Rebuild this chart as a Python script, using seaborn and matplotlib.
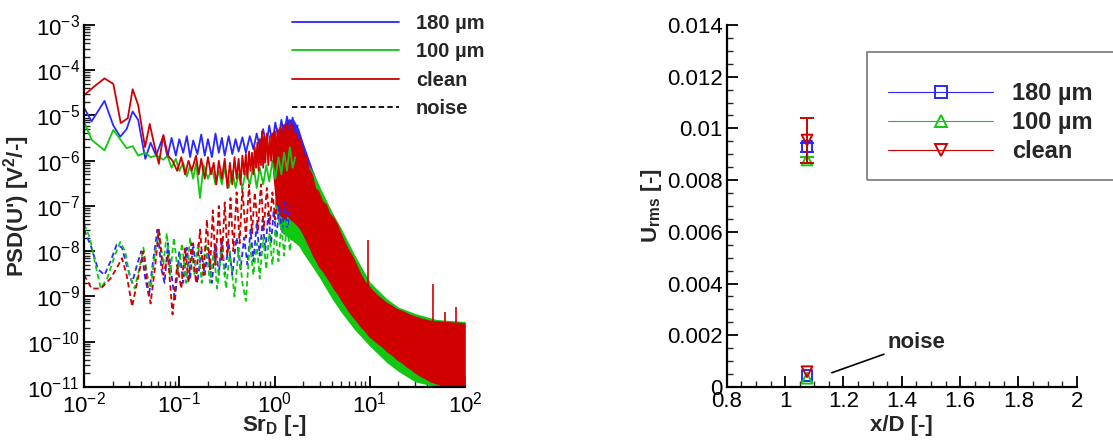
import numpy as np
import matplotlib
matplotlib.use("Agg")
import matplotlib.pyplot as plt
import seaborn as sns
from matplotlib.lines import Line2D
from matplotlib.patches import Rectangle
from matplotlib.ticker import LogLocator, MultipleLocator, FormatStrFormatter, NullFormatter

sns.set_style("ticks")
plt.rcParams['font.family'] = ['Liberation Sans', 'DejaVu Sans']
plt.rcParams['mathtext.default'] = 'regular'

BLUE = '#2828ff'
GREEN = '#10c810'
RED = '#d00000'

# ---- left panel: PSD traces ----
# solid lines (flow signal), low Sr part
f_red = [0.0100, 0.0130, 0.0164, 0.0203, 0.0243, 0.0288, 0.0324, 0.0370, 0.0437, 0.0490, 0.0540, 0.0610,
         0.0680, 0.0760, 0.085, 0.095, 0.105, 0.115, 0.125, 0.135, 0.15, 0.16, 0.17, 0.185, 0.20, 0.215,
         0.23, 0.245, 0.26, 0.28, 0.30, 0.32, 0.34, 0.36, 0.38, 0.40, 0.42, 0.44, 0.46, 0.48, 0.50, 0.52,
         0.54, 0.56, 0.58, 0.60, 0.62, 0.64, 0.66, 0.68, 0.70, 0.72, 0.74, 0.76, 0.78, 0.80, 0.83, 0.86,
         0.89, 0.92, 0.95, 0.98, 1.01, 1.04, 1.08, 1.12, 1.16, 1.20, 1.25, 1.30, 1.35, 1.40, 1.45, 1.50,
         1.56, 1.62, 1.68, 1.75]
p_red = [2.8e-5, 4.5e-5, 6.6e-5, 5.0e-5, 6.8e-6, 8.7e-6, 3.8e-5, 1.7e-5, 2.0e-6, 6.5e-6, 2.5e-6, 8.5e-7,
         3.7e-6, 1.3e-6, 1.0e-6, 6e-7, 1.2e-6, 5e-7, 1.0e-6, 6e-7, 1.3e-6, 5e-7, 1.1e-6, 4e-7, 1.2e-6, 5e-7,
         9e-7, 3e-7, 1.0e-6, 4e-7, 1.1e-6, 2.5e-7, 9e-7, 3e-7, 1.2e-6, 4e-7, 1.1e-6, 3e-7, 1.3e-6, 5e-7,
         1.4e-6, 4e-7, 1.6e-6, 6e-7, 1.5e-6, 5e-7, 2e-6, 7e-7, 2.5e-6, 6e-7, 3e-6, 8e-7, 4.5e-6, 7e-7,
         3.5e-6, 9e-7, 4e-6, 8e-7, 3.5e-6, 1e-6, 4e-6, 9e-7, 4.5e-6, 1.2e-6, 5e-6, 1.5e-6, 5.5e-6, 1.3e-6,
         6e-6, 2e-6, 6.5e-6, 2e-6, 7e-6, 2.5e-6, 6e-6, 2e-6, 4e-6, 2.5e-6]

f_blue = [0.0100, 0.0120, 0.0164, 0.0203, 0.0240, 0.0280, 0.0324, 0.0370, 0.0440, 0.0500, 0.0570, 0.0680,
          0.075, 0.083, 0.092, 0.100, 0.110, 0.120, 0.130, 0.140, 0.155, 0.170, 0.185, 0.200, 0.220, 0.240,
          0.260, 0.280, 0.300, 0.330, 0.360, 0.390, 0.420, 0.460, 0.500, 0.550, 0.600, 0.650, 0.700, 0.760,
          0.820, 0.880, 0.950, 1.02, 1.10, 1.18, 1.26, 1.35, 1.45, 1.55, 1.65, 1.75]
p_blue = [1.5e-5, 7.4e-6, 2.1e-5, 6e-6, 3.4e-6, 5e-6, 1.23e-5, 8e-6, 1.1e-6, 2.5e-6, 1.3e-6, 3.5e-6,
          1.2e-6, 3.2e-6, 1.3e-6, 3.0e-6, 1.5e-6, 3.5e-6, 1.2e-6, 2.8e-6, 1.4e-6, 3.8e-6, 1.3e-6, 3.0e-6,
          1.2e-6, 4.0e-6, 1.5e-6, 3.2e-6, 1.3e-6, 3.5e-6, 1.4e-6, 3.0e-6, 1.6e-6, 3.3e-6, 1.5e-6, 3.5e-6,
          1.8e-6, 4e-6, 2e-6, 5e-6, 2.2e-6, 6e-6, 2.5e-6, 7e-6, 3e-6, 8e-6, 3.5e-6, 9.5e-6, 4e-6, 9e-6,
          4e-6, 6e-6]

f_green = [0.0100, 0.0120, 0.0164, 0.0203, 0.0280, 0.0324, 0.0370, 0.0437, 0.0500, 0.0580, 0.068, 0.075,
           0.083, 0.092, 0.100, 0.110, 0.120, 0.130, 0.140, 0.150, 0.165, 0.18, 0.20, 0.22, 0.24, 0.26,
           0.28, 0.30, 0.33, 0.36, 0.39, 0.42, 0.46, 0.50, 0.55, 0.60, 0.65, 0.70, 0.76, 0.82, 0.88, 0.95,
           1.02, 1.10, 1.18, 1.26, 1.35, 1.45, 1.55, 1.65]
p_green = [7.4e-6, 2.9e-6, 1.7e-6, 4.8e-6, 1.9e-6, 2.1e-6, 1.3e-6, 1.5e-6, 1.2e-6, 1.3e-6, 1.05e-6, 1.3e-6,
           7e-7, 1.1e-6, 6e-7, 9e-7, 4.5e-7, 8e-7, 4e-7, 9e-7, 1.5e-7, 8e-7, 4e-7, 7e-7, 3e-7, 6e-7,
           3e-7, 7e-7, 2.5e-7, 6e-7, 2.5e-7, 5e-7, 2.5e-7, 6e-7, 3e-7, 8e-7, 2.5e-7, 7e-7, 3e-7, 8e-7,
           3.5e-7, 1e-6, 4e-7, 1.2e-6, 5e-7, 1.5e-6, 6e-7, 2e-6, 7e-7, 1.2e-6]

# dashed lines (noise), low Sr part
fn_blue = [0.0100, 0.0120, 0.0140, 0.0164, 0.0190, 0.0220, 0.0250, 0.0280, 0.0320, 0.0360, 0.0400, 0.0440,
           0.0480, 0.0530, 0.0590, 0.0650, 0.0700, 0.0760, 0.0830, 0.0900, 0.100, 0.110, 0.120, 0.130,
           0.140, 0.155, 0.170, 0.185, 0.200, 0.220, 0.240, 0.260, 0.280, 0.300, 0.330, 0.360, 0.400,
           0.440, 0.480, 0.52, 0.56, 0.60, 0.65, 0.70, 0.75, 0.80, 0.86, 0.92, 0.98, 1.05, 1.12, 1.20,
           1.28, 1.36, 1.45]
pn_blue = [3e-8, 1.2e-8, 4e-9, 3e-9, 6e-9, 1.4e-8, 1.2e-8, 5e-9, 2e-9, 5e-9, 1e-8, 2.5e-9,
           1e-9, 6e-9, 3e-8, 4e-9, 2e-9, 1.5e-8, 3e-9, 8e-10, 1e-8, 2e-9, 1.2e-8, 2.5e-9,
           1.5e-8, 2e-9, 1e-8, 3e-9, 1.2e-8, 2e-9, 1.5e-8, 3e-9, 2e-8, 3e-9, 1.5e-8, 3e-9, 2e-8,
           4e-9, 2e-8, 5e-9, 3e-8, 6e-9, 4e-8, 8e-9, 5e-8, 1e-8, 7e-8, 1.5e-8, 8e-8, 2e-8, 1e-7, 2.5e-8,
           1.2e-7, 3e-8, 1e-7]

fn_red = [0.0100, 0.0120, 0.0150, 0.0190, 0.0230, 0.0250, 0.0280, 0.0320, 0.0360, 0.0420, 0.0460, 0.0500,
          0.0560, 0.0610, 0.0680, 0.0760, 0.0850, 0.0950, 0.105, 0.115, 0.125, 0.135, 0.150, 0.165, 0.180,
          0.195, 0.210, 0.225, 0.240, 0.260, 0.280, 0.300, 0.320, 0.345, 0.370, 0.400, 0.430, 0.460, 0.500,
          0.540, 0.580, 0.620, 0.670, 0.720, 0.770, 0.830, 0.890, 0.950, 1.02, 1.10, 1.18, 1.26, 1.35, 1.45]
pn_red = [3e-9, 1.5e-9, 1.5e-9, 2.5e-9, 5e-9, 7e-9, 3e-9, 6e-10, 2e-9, 1e-8, 2e-9, 7e-10,
          5e-9, 3e-8, 3e-9, 8e-9, 4e-10, 5e-9, 1.5e-9, 1.2e-8, 2e-9, 1.5e-8, 2e-9, 3e-8, 3e-9,
          5e-8, 4e-9, 8e-8, 5e-9, 1e-7, 6e-9, 1.2e-7, 8e-9, 1.5e-7, 1e-8, 2e-7, 1.5e-8, 2.5e-7, 2e-8,
          3e-7, 2.5e-8, 2e-7, 3e-8, 3e-7, 3e-8, 2.5e-7, 4e-8, 2e-7, 5e-8, 2.5e-7, 6e-8, 2.5e-7, 8e-8, 2e-7]

fn_green = [0.0100, 0.0115, 0.0135, 0.0150, 0.0175, 0.0210, 0.0240, 0.0270, 0.0300, 0.0340, 0.0380, 0.0420,
            0.0460, 0.0500, 0.0560, 0.0620, 0.0680, 0.0740, 0.0800, 0.0880, 0.0970, 0.107, 0.118, 0.130,
            0.143, 0.158, 0.172, 0.190, 0.210, 0.230, 0.250, 0.280, 0.310, 0.340, 0.380, 0.420, 0.460,
            0.500, 0.550, 0.600, 0.650, 0.700, 0.760, 0.820, 0.880, 0.950, 1.02, 1.10, 1.18, 1.26, 1.35,
            1.45, 1.55]
pn_green = [4e-8, 2e-8, 4e-9, 1.5e-9, 2.5e-9, 8e-9, 1.6e-8, 1e-8, 3e-9, 1.5e-9, 4e-9, 1.2e-8,
            3e-9, 1.5e-9, 1e-8, 2.5e-8, 5e-9, 2.5e-8, 3e-9, 2e-8, 3e-9, 1.5e-8, 2e-9, 2e-8,
            3e-9, 1.5e-8, 2e-9, 1.5e-8, 2e-9, 1e-8, 1.5e-9, 1.2e-8, 1.5e-9, 1e-8, 1e-9, 1.2e-8, 2e-9,
            8e-10, 1.5e-8, 3e-9, 1.5e-8, 2.5e-9, 2e-8, 4e-9, 2.5e-8, 5e-9, 3e-8, 6e-9, 4e-8, 8e-9, 4.5e-8,
            1e-8, 4e-8]

# dense part of the clean spectrum (Sr > ~1): upper / lower edge of the red band
f_band = [0.95, 1.0, 1.08, 1.16, 1.25, 1.35, 1.45, 1.55, 1.65, 1.75, 1.85, 2.0, 2.15, 2.3, 2.5, 2.7, 2.9,
          3.2, 3.5, 3.8, 4.2, 4.6, 5.0, 5.5, 6.0, 6.6, 7.3, 8.0, 8.8, 9.7, 10.7, 12, 13.5, 15, 17, 19,
          21.5, 24, 27, 30, 34, 38, 43, 48, 54, 61, 68, 76, 85, 100]
red_hi = [1.2e-6, 2.5e-6, 5e-6, 3.5e-6, 6.5e-6, 4e-6, 7e-6, 4.5e-6, 6e-6, 3e-6, 3.5e-6, 1.6e-6, 1.3e-6,
          7e-7, 5e-7, 2.5e-7, 2.2e-7, 1.3e-7, 1.1e-7, 7e-8, 5.5e-8, 4e-8, 2.5e-8, 1.6e-8, 1.1e-8, 8e-9,
          5e-9, 3.3e-9, 2.3e-9, 1.8e-9, 1.4e-9, 1.1e-9, 9e-10, 7.5e-10, 6.5e-10, 5.5e-10, 5e-10, 4.5e-10,
          4e-10, 3.7e-10, 3.4e-10, 3.2e-10, 3e-10, 2.9e-10, 2.9e-10, 2.8e-10, 2.8e-10, 2.7e-10, 2.7e-10,
          2.6e-10]
red_lo = [6e-7, 2e-7, 8e-8, 6e-8, 5e-8, 6e-8, 5e-8, 4.5e-8, 4e-8, 3.5e-8, 3e-8, 2.2e-8, 1.6e-8, 1.2e-8,
          8e-9, 6e-9, 4.5e-9, 3.5e-9, 2.6e-9, 2e-9, 1.4e-9, 1.1e-9, 8e-10, 6e-10, 4.5e-10, 3.5e-10,
          2.7e-10, 2.1e-10, 1.7e-10, 1.3e-10, 1.1e-10, 9e-11, 7.5e-11, 6e-11, 5e-11, 4e-11, 3.4e-11,
          2.8e-11, 2.4e-11, 2e-11, 1.7e-11, 1.5e-11, 1.3e-11, 1.2e-11, 1.1e-11, 1e-11, 1e-11, 1e-11, 1e-11,
          1e-11]
# blue / green bands, only showing at the rims of the red one
f_band2 = [1.0, 1.1, 1.2, 1.4, 1.6, 1.8, 2.0, 2.5, 3.0, 4.0, 5.0, 7.0, 10, 15, 20, 30, 50, 100]
blue_hi = [2e-6, 4e-6, 6e-6, 8.5e-6, 8e-6, 5e-6, 2.5e-6, 6.5e-7, 2.3e-7, 7e-8, 3e-8, 7.5e-9, 2e-9,
           8.5e-10, 5.5e-10, 4e-10, 3e-10, 2.7e-10]
blue_lo = [2e-7, 8e-8, 5e-8, 4e-8, 3e-8, 2.2e-8, 1.5e-8, 6e-9, 3e-9, 1.1e-9, 5.5e-10, 2.2e-10, 1e-10,
           4.5e-11, 2.8e-11, 1.6e-11, 1e-11, 1e-11]
green_hi = [8e-7, 1.2e-6, 1.6e-6, 2e-6, 2e-6, 1.5e-6, 1.2e-6, 6e-7, 2.6e-7, 7.5e-8, 3.2e-8, 8e-9, 2.1e-9,
            9e-10, 5.8e-10, 4.2e-10, 3.1e-10, 2.8e-10]
green_lo = [1e-7, 4e-8, 2.5e-8, 2e-8, 1.6e-8, 1.3e-8, 9e-9, 4.5e-9, 2.5e-9, 9e-10, 4.5e-10, 1.8e-10, 8e-11,
            3.5e-11, 2.2e-11, 1.3e-11, 1e-11, 1e-11]

# narrow peaks in the clean spectrum
spike_f = [9.6, 45.7, 61, 80]
spike_p = [1.8e-8, 1.9e-9, 4.6e-10, 6e-10]
spike_base = [1.5e-9, 2.5e-10, 2.5e-10, 2.5e-10]

# ---- right panel: rms values ----
xd = [1.075, 1.075, 1.075]
cases = ['180 µm', '100 µm', 'clean']
urms = [0.00929, 0.00878, 0.00955]
err_lo = [0.00019, 0.00013, 0.00090]
err_hi = [0.00016, 0.00012, 0.00087]
urms_noise = [0.00043, 0.00034, 0.00059]

colors = [BLUE, GREEN, RED]
markers = ['s', '^', 'v']

fig = plt.figure(figsize=(11.13, 4.4), dpi=100)
ax1 = fig.add_axes([0.0755, 0.1205, 0.3423, 0.8227])
ax2 = fig.add_axes([0.653, 0.1205, 0.3145, 0.8227])

ax1.set_xscale('log')
ax1.set_yscale('log')

ax1.fill_between(f_band2, blue_lo, blue_hi, color=BLUE, lw=0)
ax1.fill_between(f_band2, green_lo, green_hi, color=GREEN, lw=0)
ax1.fill_between(f_band, red_lo, red_hi, color=RED, lw=0)

dash = (0, (3, 1.8))
for f, p, c in [(fn_blue, pn_blue, BLUE), (fn_green, pn_green, GREEN), (fn_red, pn_red, RED)]:
    sns.lineplot(x=f, y=p, ax=ax1, color=c, lw=1.3, linestyle=dash, estimator=None, sort=False)
for f, p, c in [(f_blue, p_blue, BLUE), (f_green, p_green, GREEN), (f_red, p_red, RED)]:
    sns.lineplot(x=f, y=p, ax=ax1, color=c, lw=1.3, estimator=None, sort=False)
ax1.vlines(spike_f, spike_base, spike_p, color=RED, lw=1.2)

ax1.set_xlim(1e-2, 1e2)
ax1.set_ylim(1e-11, 1e-3)
ax1.xaxis.set_major_locator(LogLocator(base=10, numticks=20))
ax1.yaxis.set_major_locator(LogLocator(base=10, numticks=20))
ax1.xaxis.set_minor_locator(LogLocator(base=10, subs=np.arange(2, 10), numticks=100))
ax1.yaxis.set_minor_locator(LogLocator(base=10, subs=np.arange(2, 10), numticks=100))
ax1.xaxis.set_minor_formatter(NullFormatter())
ax1.yaxis.set_minor_formatter(NullFormatter())
ax1.set_xlabel('Sr$_D$ [-]', fontsize=16, fontweight='bold')
ax1.set_ylabel("PSD(U') [V$^2$/-]", fontsize=16, fontweight='bold')
ax1.xaxis.set_label_coords(0.5, -0.072)
ax1.yaxis.set_label_coords(-0.137, 0.5)

leg_handles = [Line2D([], [], color=BLUE, lw=1.3), Line2D([], [], color=GREEN, lw=1.3),
               Line2D([], [], color=RED, lw=1.3), Line2D([], [], color='black', lw=1.3, linestyle=dash)]
ax1.legend(leg_handles, cases + ['noise'], loc='upper left', bbox_to_anchor=(292 / 1113, 1 - 14 / 440),
           bbox_transform=fig.transFigure, frameon=False, handlelength=5.3, handletextpad=0.85,
           labelspacing=0.47, borderpad=0, borderaxespad=0, prop={'size': 14.5, 'weight': 'bold'})

# right panel
for i in range(3):
    ax2.errorbar([xd[i]], [urms[i]], yerr=[[err_lo[i]], [err_hi[i]]], fmt='none', ecolor=colors[i],
                 elinewidth=1.4, capsize=5, capthick=1.4)
for i in range(3):
    sns.scatterplot(x=[xd[i]], y=[urms[i]], ax=ax2, marker=markers[i], s=60, facecolor='none',
                    edgecolor=colors[i], linewidth=1.4)
    sns.scatterplot(x=[xd[i]], y=[urms_noise[i]], ax=ax2, marker=markers[i], s=60, facecolor='none',
                    edgecolor=colors[i], linewidth=1.4)

ax2.annotate('noise', xy=(1.16, 0.00055), xytext=(1.35, 0.00171), fontsize=16, fontweight='bold',
             ha='left', va='center', arrowprops=dict(arrowstyle='-', color='black', lw=1.2, shrinkA=0, shrinkB=0))

ax2.set_xlim(0.8, 2.0)
ax2.set_ylim(0, 0.014)
ax2.xaxis.set_major_locator(MultipleLocator(0.2))
ax2.xaxis.set_minor_locator(MultipleLocator(0.05))
ax2.yaxis.set_major_locator(MultipleLocator(0.002))
ax2.yaxis.set_minor_locator(MultipleLocator(0.0005))
ax2.xaxis.set_major_formatter(FormatStrFormatter('%g'))
ax2.yaxis.set_major_formatter(FormatStrFormatter('%g'))
ax2.set_xlabel('x/D [-]', fontsize=16, fontweight='bold')
ax2.set_ylabel('U$_{rms}$ [-]', fontsize=16, fontweight='bold')
ax2.xaxis.set_label_coords(0.5, -0.077)
ax2.yaxis.set_label_coords(-0.18, 0.5)

leg2_handles = [Line2D([], [], color=c, lw=0.8, marker=m, markersize=8, markerfacecolor='none',
                       markeredgewidth=1.4) for c, m in zip(colors, markers)]
ax2.legend(leg2_handles, cases, loc='upper left', bbox_to_anchor=(888 / 1113, 1 - 82 / 440),
           bbox_transform=fig.transFigure, frameon=False, handlelength=4.45, handletextpad=0.8,
           labelspacing=0.25, borderpad=0, borderaxespad=0, prop={'size': 17, 'weight': 'bold'})
fig.patches.append(Rectangle((867 / 1113, 1 - 180 / 440), 300 / 1113, 128 / 440, transform=fig.transFigure,
                             fill=False, edgecolor='#777777', lw=1.2))

for ax in (ax1, ax2):
    sns.despine(ax=ax)
    for s in ('left', 'bottom'):
        ax.spines[s].set_linewidth(1.6)
        ax.spines[s].set_color('black')
    ax.tick_params(which='major', direction='in', length=8, width=1.3, labelsize=16, pad=3, colors='black')
    ax.tick_params(which='minor', direction='in', length=4, width=1.0)

fig.savefig('out.png', dpi=100)
